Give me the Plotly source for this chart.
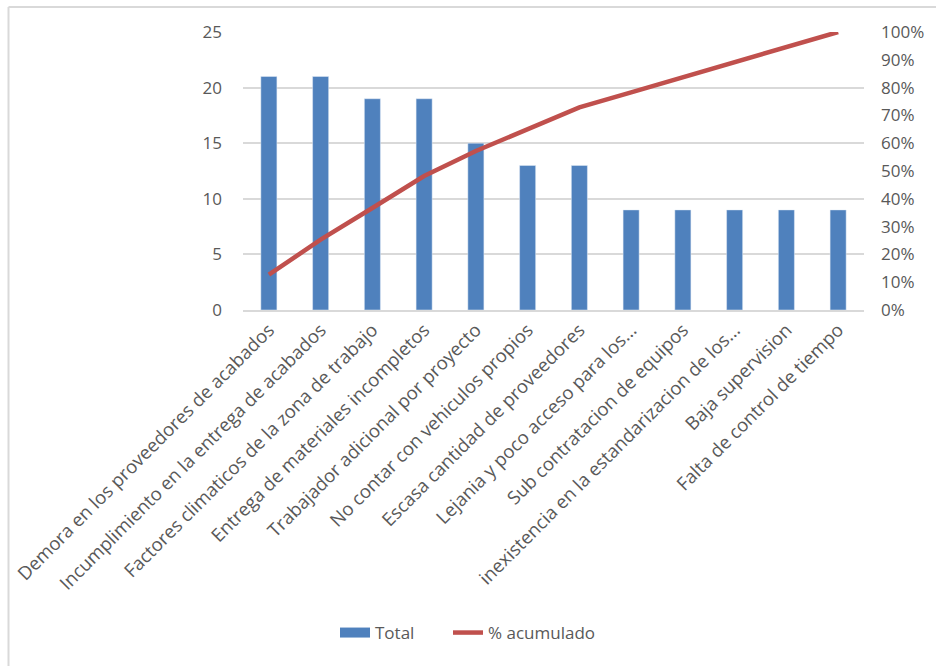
import plotly.graph_objects as go

categories = [
    "Demora en los proveedores de acabados",
    "Incumplimiento en la entrega de acabados",
    "Factores climaticos de la zona de trabajo",
    "Entrega de materiales incompletos",
    "Trabajador adicional por proyecto",
    "No contar con vehiculos propios",
    "Escasa cantidad de proveedores",
    "Lejania y poco acceso para los...",
    "Sub contratacion de equipos",
    "inexistencia en la estandarizacion de los...",
    "Baja supervision",
    "Falta de control de tiempo",
]
total = [21, 21, 19, 19, 15, 13, 13, 9, 9, 9, 9, 9]
pct_acumulado = [0.127, 0.253, 0.367, 0.482, 0.572, 0.651, 0.729, 0.783, 0.837, 0.892, 0.946, 1.0]
left_ticks = [0, 5, 10, 15, 20, 25]
right_ticks = [i / 10 for i in range(11)]

FONT = "Open Sans"
GRAY = "#595959"
GRID = "#D9D9D9"
BLUE = "#4F81BD"
RED = "#C0504D"

fig = go.Figure()
fig.add_trace(go.Bar(x=categories, y=total, name="Total", marker_color=BLUE,
                     width=0.31, yaxis="y", showlegend=False))
# legend-only entry drawn as a wide block like the original legend key
fig.add_trace(go.Scatter(x=[None], y=[None], name="Total", mode="lines",
                         line=dict(color=BLUE, width=10), yaxis="y", legend="legend"))
fig.add_trace(go.Scatter(x=categories, y=pct_acumulado, name="% acumulado", mode="lines",
                         line=dict(color=RED, width=4.5), yaxis="y2", legend="legend2"))

L, R, T, B = 243, 72, 32, 356
W, H = 936, 666
pw = W - L - R
ph = H - T - B

def px_x(p):
    return (p - L) / pw

def px_y(p):
    return (H - B - p) / ph

legend_common = dict(orientation="h", xref="container", yref="container",
                     y=1 - 633 / H, xanchor="left", yanchor="middle",
                     font=dict(size=17, color=GRAY), bgcolor="rgba(0,0,0,0)")

fig.update_layout(
    width=W, height=H,
    margin=dict(l=L, r=R, t=T, b=B),
    paper_bgcolor="white", plot_bgcolor="white",
    font=dict(family=FONT, size=16, color=GRAY),
    showlegend=True,
    legend=dict(x=335 / W, **legend_common),
    legend2=dict(x=448 / W, **legend_common),
    xaxis=dict(tickangle=-45, tickfont=dict(size=18.5, color=GRAY), showgrid=False,
               showline=True, linecolor=GRID, linewidth=2, ticks="",
               range=[-0.5, len(categories) - 0.5]),
    yaxis=dict(range=[0, 25], tickvals=left_ticks, showgrid=True, gridcolor=GRID,
               gridwidth=2, zeroline=False, showline=False, ticks="",
               ticklabelstandoff=20, tickfont=dict(size=17, color=GRAY)),
    yaxis2=dict(range=[0, 1], tickvals=right_ticks, tickformat=".0%", overlaying="y",
                side="right", showgrid=False, zeroline=False, showline=False, ticks="",
                ticklabelstandoff=16, tickfont=dict(size=17, color=GRAY)),
    shapes=[
        dict(type="line", xref="paper", yref="paper", x0=px_x(8.5), x1=px_x(8.5),
             y0=px_y(7), y1=px_y(H + 5), line=dict(color=GRID, width=2)),
        dict(type="line", xref="paper", yref="paper", x0=px_x(8.5), x1=px_x(W + 5),
             y0=px_y(7), y1=px_y(7), line=dict(color=GRID, width=2)),
    ],
)

fig.write_html("out.html")
